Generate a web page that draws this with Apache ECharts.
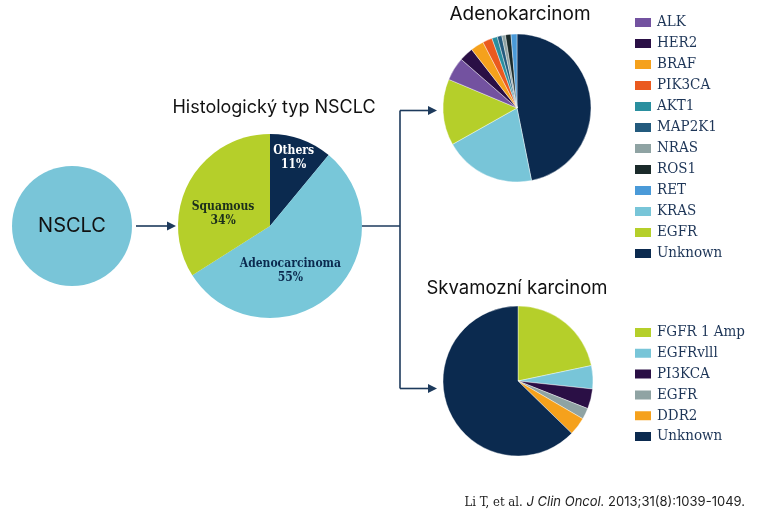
<!DOCTYPE html>
<html>
<head>
<meta charset="utf-8">
<script src="https://cdn.jsdelivr.net/npm/echarts@6/dist/echarts.min.js"></script>
<style>html,body{margin:0;padding:0;background:#fff}#c{width:759px;height:510px}</style>
</head>
<body>
<div id="c"></div>
<script>
// ---- data ----
const histNames = ['Others', 'Adenocarcinoma', 'Squamous'];
const histValues = [11, 55, 34];

// Adenocarcinoma, clockwise from 12 o'clock
const adenoNames = ['Unknown', 'KRAS', 'EGFR', 'ALK', 'HER2', 'BRAF', 'PIK3CA', 'AKT1', 'MAP2K1', 'NRAS', 'ROS1', 'RET'];
const adenoValues = [46.9, 20.0, 14.5, 5.1, 3.1, 2.9, 2.1, 1.2, 1.0, 0.8, 1.2, 1.3];
const adenoLegend = ['ALK', 'HER2', 'BRAF', 'PIK3CA', 'AKT1', 'MAP2K1', 'NRAS', 'ROS1', 'RET', 'KRAS', 'EGFR', 'Unknown'];

// Squamous, clockwise from 12 o'clock
const squamNames = ['FGFR 1 Amp', 'EGFRvlll', 'PI3KCA', 'EGFR', 'DDR2', 'Unknown'];
const squamValues = [21.7, 5.0, 4.3, 2.4, 3.9, 62.7];

const adenoColors = {
  ALK: '#7352a0', HER2: '#2a0f45', BRAF: '#f5a11c', PIK3CA: '#ea5a1f', AKT1: '#2a8f9f',
  MAP2K1: '#235a7d', NRAS: '#8fa3a3', ROS1: '#1a2a2a', RET: '#4a9ad8', KRAS: '#78c5d8',
  EGFR: '#b5cf2a', Unknown: '#0b2a4f'
};
const squamColors = {
  'FGFR 1 Amp': '#b5cf2a', 'EGFRvlll': '#78c5d8', 'PI3KCA': '#2a0f45', 'EGFR': '#8fa3a3',
  'DDR2': '#f5a11c', 'Unknown': '#0b2a4f'
};
const histColors = { Others: '#0b2a4f', Adenocarcinoma: '#78c7d9', Squamous: '#b5cf2a' };

// ---- chart ----
const chart = echarts.init(document.getElementById('c'), null, { renderer: 'canvas' });
const NAVY = '#1d3a5c';
const SERIF = '"DejaVu Serif Condensed", "DejaVu Serif", serif';
const SANS = 'Inter, "Liberation Sans", sans-serif';

const labelCfg = {
  Others: { color: '#ffffff', offset: [7, -22] },
  Adenocarcinoma: { color: '#0b2a4f', offset: [-12, 8] },
  Squamous: { color: '#1c2f1c', offset: [-4, 11] }
};

function arrowHead(x, y) {
  return { type: 'polygon', shape: { points: [[x, y], [x - 9, y - 4.5], [x - 9, y + 4.5]] }, style: { fill: NAVY } };
}
function seg(x1, y1, x2, y2) {
  return { type: 'line', shape: { x1, y1, x2, y2 }, style: { stroke: NAVY, lineWidth: 1.6 } };
}

const option = {
  animation: false,
  backgroundColor: '#ffffff',
  legend: [
    {
      orient: 'vertical', left: 633, top: 15, padding: 0, icon: 'rect',
      itemWidth: 18, itemHeight: 11, itemGap: 6, selectedMode: false,
      textStyle: { fontFamily: SERIF, fontSize: 15, color: '#1d3557' },
      data: adenoLegend.map(n => ({ name: n, itemStyle: { color: adenoColors[n] } }))
    },
    {
      orient: 'vertical', left: 633, top: 325, padding: 0, icon: 'rect',
      itemWidth: 18, itemHeight: 11, itemGap: 5.8, selectedMode: false,
      textStyle: { fontFamily: SERIF, fontSize: 15, color: '#1d3557' },
      data: squamNames.map(n => ({ name: n, itemStyle: { color: squamColors[n] } }))
    }
  ],
  graphic: [
    seg(136, 226, 167, 226), arrowHead(176, 226),
    seg(361, 226, 400, 226), seg(400, 110.5, 400, 388.5),
    seg(400, 110.5, 428, 110.5), arrowHead(437, 110.5),
    seg(400, 388.5, 428, 388.5), arrowHead(437, 388.5),
    { type: 'text', style: { x: 274, y: 108, text: 'Histologický typ NSCLC', textAlign: 'center', textVerticalAlign: 'middle', font: '18px ' + SANS, fill: '#111' } },
    { type: 'text', style: { x: 520, y: 14, text: 'Adenokarcinom', textAlign: 'center', textVerticalAlign: 'middle', font: '19px ' + SANS, fill: '#111' } },
    { type: 'text', style: { x: 517, y: 288, text: 'Skvamozní karcinom', textAlign: 'center', textVerticalAlign: 'middle', font: '18.5px ' + SANS, fill: '#111' } },
    {
      type: 'text', right: 14, top: 496,
      style: {
        text: '{a|Li T, et al. }{b|J Clin Oncol.}{c| 2013;31(8):1039-1049.}',
        rich: {
          a: { fontFamily: SERIF, fontSize: 13, fill: '#222' },
          b: { fontFamily: SANS, fontStyle: 'italic', fontSize: 13, fill: '#222' },
          c: { fontFamily: SANS, fontSize: 13, fill: '#222' }
        }
      }
    }
  ],
  series: [
    {
      type: 'pie', name: 'NSCLC', center: [72, 226], radius: 60, silent: true,
      label: { show: true, position: 'center', formatter: '{b}', fontFamily: SANS, fontSize: 20, color: '#111' },
      labelLine: { show: false },
      itemStyle: { color: '#79c5d8' },
      data: [{ name: 'NSCLC', value: 100 }]
    },
    {
      type: 'pie', name: 'Histologický typ', center: [270, 226], radius: 92, silent: true,
      startAngle: 90, clockwise: true,
      labelLine: { show: false },
      data: histNames.map((n, i) => ({
        name: n, value: histValues[i],
        itemStyle: { color: histColors[n] },
        label: {
          show: true, position: 'inside', formatter: '{b}\n{d}%',
          fontFamily: SERIF, fontWeight: 'bold', fontSize: 12, lineHeight: 14,
          color: labelCfg[n].color, offset: labelCfg[n].offset
        }
      }))
    },
    {
      type: 'pie', name: 'Adenokarcinom', center: [517, 108], radius: 74, silent: true,
      startAngle: 90, clockwise: true,
      label: { show: false }, labelLine: { show: false },
      itemStyle: { borderColor: '#ffffff', borderWidth: 0.4 },
      data: adenoNames.map((n, i) => ({ name: n, value: adenoValues[i], itemStyle: { color: adenoColors[n] } }))
    },
    {
      type: 'pie', name: 'Skvamozní karcinom', center: [518, 381], radius: 75, silent: true,
      startAngle: 90, clockwise: true,
      label: { show: false }, labelLine: { show: false },
      itemStyle: { borderColor: '#ffffff', borderWidth: 0.4 },
      data: squamNames.map((n, i) => ({ name: n, value: squamValues[i], itemStyle: { color: squamColors[n] } }))
    }
  ]
};
chart.setOption(option);
</script>
</body>
</html>
